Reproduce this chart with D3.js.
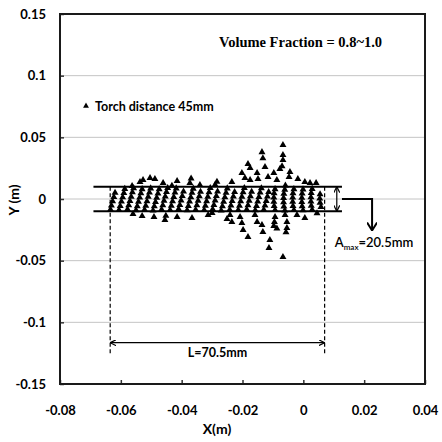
<!DOCTYPE html>
<html>
<head>
<meta charset="utf-8">
<script src="https://cdn.jsdelivr.net/npm/d3@7"></script>
<style>
  body { margin: 0; background: #fff; }
  svg text { font-family: Lato, "Open Sans", sans-serif; }
</style>
</head>
<body>
<div id="chart"></div>
<script>
// tick values (m)
var xTicks = [-0.08, -0.06, -0.04, -0.02, 0, 0.02, 0.04];
var yTicks = [-0.15, -0.1, -0.05, 0, 0.05, 0.1, 0.15];

// particle positions, [x, y] in mm
// band part, slanted columns
var bandLeft = [
  [-63.4,-8.6],[-63.1,-5.2],[-62.7,-1.8],[-62.3,1.6],[-61.9,5.0],
  [-60.6,-9.0],[-60.2,-5.6],[-59.8,-2.0],[-59.4,1.4],[-59.0,4.8],[-58.7,8.2],
  [-57.8,-8.4],[-57.4,-5.0],[-57.0,-1.6],[-56.6,1.8],[-56.2,5.4],[-55.8,8.8],
  [-55.0,-9.2],[-54.6,-5.8],[-54.2,-2.2],[-53.8,1.2],[-53.4,4.6],[-53.0,8.0],
  [-52.2,-8.8],[-51.8,-5.4],[-51.4,-1.8],[-51.0,1.8],[-50.6,5.2],[-50.2,8.6],
  [-49.4,-9.4],[-49.0,-5.8],[-48.6,-2.4],[-48.2,1.0],[-47.8,4.4],[-47.4,8.0],
  [-46.6,-8.6],[-46.2,-5.0],[-45.8,-1.4],[-45.4,2.0],[-45.0,5.6],[-44.6,9.0],
  [-43.8,-9.0],[-43.4,-5.4],[-43.0,-1.8],[-42.6,1.6],[-42.2,5.2],[-41.8,8.6],
  [-41.0,-8.2],[-40.6,-4.8],[-40.2,-1.2],[-39.8,2.4],[-39.4,6.0],
  [-38.2,-9.2],[-37.8,-5.6],[-37.4,-2.0],[-37.0,1.4],[-36.6,5.0],[-36.2,8.4],
  [-35.4,-8.8],[-35.0,-5.0],[-34.6,-1.4],[-34.2,2.2],[-33.8,5.8]
];
var bandMid = [
  [-32.6,-9.0],[-32.2,-5.4],[-31.8,-1.8],[-31.4,1.8],[-31.0,5.4],[-30.6,9.0],
  [-29.8,-8.4],[-29.4,-4.8],[-29.0,-1.2],[-28.6,2.4],[-28.2,6.0],
  [-27.0,-9.4],[-26.6,-5.8],[-26.2,-2.2],[-25.8,1.4],[-25.4,5.0],[-25.0,8.6],
  [-24.2,-8.8],[-23.8,-5.2],[-23.4,-1.6],[-23.0,2.0],[-22.6,5.6],
  [-21.4,-9.0],[-21.0,-5.4],[-20.6,-1.8],[-20.2,1.8],[-19.8,5.4],[-19.4,9.0],
  [-18.6,-8.6],[-18.2,-5.0],[-17.8,-1.4],[-17.4,2.2],[-17.0,5.8],
  [-15.8,-9.2],[-15.4,-5.6],[-15.0,-2.0],[-14.6,1.6],[-14.2,5.2],[-13.8,8.8],
  [-13.0,-8.8],[-12.6,-5.2],[-12.2,-1.6],[-11.8,2.0],[-11.4,5.6]
];
// band part, upright columns near the end
var bandRight = [
  [-9.3,-9.0],[-9.6,-5.6],[-9.7,-2.2],[-9.7,1.2],[-9.6,4.6],[-9.3,8.0],
  [-6.1,-9.4],[-6.4,-6.0],[-6.5,-2.6],[-6.5,0.8],[-6.4,4.2],[-6.1,7.6],[-5.9,11.0],
  [-3.1,-9.0],[-3.4,-5.6],[-3.5,-2.2],[-3.5,1.2],[-3.4,4.6],[-3.1,8.0],
  [-0.1,-9.2],[-0.4,-5.8],[-0.5,-2.4],[-0.5,1.0],[-0.4,4.4],[-0.1,7.8],
  [2.9,-8.8],[2.6,-5.4],[2.5,-2.0],[2.5,1.4],[2.6,4.8],[2.9,8.2],
  [5.8,-6.4],[5.5,-3.0],[5.4,0.4],[5.5,3.8]
];
// above the band
var upper = [
  [-56.3,10.5],[-53.7,13.8],[-52.7,15.4],[-50.4,17.0],[-48.8,16.2],[-46.1,13.0],
  [-43.2,10.8],[-41.5,14.6],[-37.3,13.0],[-36.9,16.6],[-34.0,11.3],[-29.0,11.5],
  [-28.4,14.0],[-23.5,13.8],[-20.2,21.0],[-19.2,17.0],[-18.2,28.4],[-17.5,25.1],
  [-17.5,15.4],[-15.2,21.0],[-14.9,16.2],[-13.6,38.0],[-13.3,33.0],[-12.6,26.0],
  [-11.6,17.8],[-9.7,21.0],[-8.7,15.4],[-7.7,24.3],[-7.0,26.5],[-6.7,31.6],
  [-6.7,35.7],[-6.7,43.8],[-4.7,17.8],[-4.4,21.9],[-1.8,16.2],[0.5,13.8],
  [2.2,13.0],[4.2,13.0]
];
// below the band
var lower = [
  [-56.0,-12.2],[-53.0,-13.8],[-49.1,-14.6],[-45.5,-17.0],[-45.2,-13.5],
  [-41.5,-14.6],[-36.6,-15.4],[-31.3,-13.0],[-30.0,-11.3],[-25.1,-16.2],
  [-24.1,-13.0],[-23.5,-18.6],[-20.8,-14.6],[-20.2,-19.4],[-19.8,-25.1],
  [-18.2,-30.8],[-15.9,-13.0],[-15.2,-18.6],[-13.6,-21.0],[-13.3,-26.7],
  [-11.0,-33.2],[-11.3,-39.7],[-9.3,-14.6],[-9.5,-18.6],[-9.7,-21.8],
  [-8.7,-24.0],[-6.0,-13.0],[-5.4,-18.6],[-5.4,-23.5],[-5.7,-27.0],
  [-6.7,-47.0],[-2.1,-13.0],[0.5,-15.4],[4.5,-11.5]
];

// annotation positions (mm)
var bandY = [10, -10];
var bandX = [-69, 12.7];
var spanX = [-63.5, 7.0];
var spanY = -116.5;
var dashBottom = -127;
var ampX = 11.0;
var hookX = 22.6;
var hookBottom = -25.5;

var points = bandLeft.concat(bandMid, bandRight, upper, lower);

var W = 442, H = 442;
var margin = { top: 14, right: 17, bottom: 58, left: 60 };

var svg = d3.select('#chart').append('svg')
  .attr('width', W).attr('height', H);

var x = d3.scaleLinear().domain([-0.08, 0.04]).range([margin.left, W - margin.right]);
var y = d3.scaleLinear().domain([-0.15, 0.15]).range([H - margin.bottom, margin.top]);
var mm = function (v) { return v / 1000; };

var fmt = function (d) { return String(+d.toFixed(2)); };

var defs = svg.append('defs');
defs.append('marker').attr('id', 'ah')
  .attr('viewBox', '0 0 10 10').attr('refX', 10).attr('refY', 5)
  .attr('markerWidth', 6).attr('markerHeight', 6).attr('markerUnits', 'userSpaceOnUse')
  .attr('orient', 'auto-start-reverse')
  .append('path').attr('d', 'M0,0 L10,5 L0,10').attr('fill', 'none')
  .attr('stroke', '#000').attr('stroke-width', 2);
defs.append('marker').attr('id', 'big')
  .attr('viewBox', '0 0 10 10').attr('refX', 9).attr('refY', 5)
  .attr('markerWidth', 10).attr('markerHeight', 10).attr('markerUnits', 'userSpaceOnUse')
  .attr('orient', 'auto')
  .append('path').attr('d', 'M1,0 L9,5 L1,10').attr('fill', 'none')
  .attr('stroke', '#000').attr('stroke-width', 2);

// gridlines
svg.append('g').selectAll('line')
  .data(yTicks.filter(function (d) { return Math.abs(d) < 0.15; }))
  .enter().append('line')
  .attr('x1', margin.left).attr('x2', W - margin.right)
  .attr('y1', function (d) { return y(d); }).attr('y2', function (d) { return y(d); })
  .attr('stroke', '#c4c4c4').attr('stroke-width', 1);

// axes
var xAxis = svg.append('g')
  .attr('transform', 'translate(0,' + (H - margin.bottom) + ')')
  .call(d3.axisBottom(x).tickValues(xTicks).tickFormat(fmt).tickSize(-4).tickPadding(22));
var yAxis = svg.append('g')
  .attr('transform', 'translate(' + margin.left + ',0)')
  .call(d3.axisLeft(y).tickValues(yTicks).tickFormat(fmt).tickSize(-4).tickPadding(14));
[xAxis, yAxis].forEach(function (g) {
  g.select('.domain').remove();
  g.selectAll('line').attr('stroke', '#333').attr('stroke-width', 1.5);
  g.selectAll('text').attr('fill', '#000').style('font-size', '13px').style('font-weight', 'bold')
    .style('font-family', 'Lato, sans-serif');
});

// frame
svg.append('rect')
  .attr('x', margin.left).attr('y', margin.top)
  .attr('width', W - margin.left - margin.right).attr('height', H - margin.top - margin.bottom)
  .attr('fill', 'none').attr('stroke', '#1a1a1a').attr('stroke-width', 2);

// band lines
svg.append('g').selectAll('line').data(bandY).enter().append('line')
  .attr('x1', x(mm(bandX[0]))).attr('x2', x(mm(bandX[1])))
  .attr('y1', function (d) { return y(mm(d)); }).attr('y2', function (d) { return y(mm(d)); })
  .attr('stroke', '#000').attr('stroke-width', 2);

// dashed span lines
svg.append('g').selectAll('line').data(spanX).enter().append('line')
  .attr('x1', function (d) { return x(mm(d)); }).attr('x2', function (d) { return x(mm(d)); })
  .attr('y1', y(mm(bandY[0]))).attr('y2', y(mm(dashBottom)))
  .attr('stroke', '#000').attr('stroke-width', 1.2).attr('stroke-dasharray', '4,2.5');

svg.append('line')
  .attr('x1', x(mm(spanX[0]))).attr('x2', x(mm(spanX[1])))
  .attr('y1', y(mm(spanY))).attr('y2', y(mm(spanY)))
  .attr('stroke', '#000').attr('stroke-width', 1.2)
  .attr('marker-start', 'url(#ah)').attr('marker-end', 'url(#ah)');

svg.append('text')
  .attr('x', x(mm((spanX[0] + spanX[1]) / 2))).attr('y', y(mm(spanY)) + 14)
  .attr('text-anchor', 'middle').style('font-size', '12.5px').style('font-weight', 'bold')
  .text('L=70.5mm');

// amplitude arrow
svg.append('line')
  .attr('x1', x(mm(ampX))).attr('x2', x(mm(ampX)))
  .attr('y1', y(mm(bandY[0]))).attr('y2', y(mm(bandY[1])))
  .attr('stroke', '#000').attr('stroke-width', 1.2)
  .attr('marker-start', 'url(#ah)').attr('marker-end', 'url(#ah)');

svg.append('path')
  .attr('d', d3.line()([
    [x(mm(bandX[1])), y(0)], [x(mm(hookX)), y(0)], [x(mm(hookX)), y(mm(hookBottom))]
  ]))
  .attr('fill', 'none').attr('stroke', '#000').attr('stroke-width', 2)
  .attr('marker-end', 'url(#big)');

var amp = svg.append('text')
  .attr('x', x(mm(ampX)) - 2).attr('y', 247)
  .style('font-size', '13px').style('font-weight', '600');
amp.append('tspan').text('A');
amp.append('tspan').attr('dy', 3).style('font-size', '8px').text('max');
amp.append('tspan').attr('dy', -3).text('=20.5mm');

// particles
var tri = d3.symbol().type(d3.symbolTriangle).size(21);
svg.append('g').selectAll('path').data(points).enter().append('path')
  .attr('d', tri)
  .attr('transform', function (d) { return 'translate(' + x(mm(d[0])) + ',' + y(mm(d[1])) + ')'; })
  .attr('fill', '#000');

// legend
svg.append('path').attr('d', d3.symbol().type(d3.symbolTriangle).size(15))
  .attr('transform', 'translate(86,106)').attr('fill', '#000');
svg.append('text').attr('x', 95).attr('y', 111)
  .style('font-size', '12.5px').style('font-weight', 'bold')
  .text('Torch distance 45mm');

// title
svg.append('text').attr('x', 219).attr('y', 47)
  .style('font-family', '"Liberation Serif", "DejaVu Serif", serif')
  .style('font-size', '14.5px').style('font-weight', 'bold')
  .text('Volume Fraction = 0.8~1.0');

// axis titles
svg.append('text').attr('x', 217).attr('y', 434)
  .attr('text-anchor', 'middle').style('font-size', '14px').style('font-weight', 'bold')
  .text('X(m)');
svg.append('text')
  .attr('transform', 'translate(19,200) rotate(-90)')
  .attr('text-anchor', 'middle').style('font-size', '14px').style('font-weight', 'bold')
  .text('Y (m)');
</script>
</body>
</html>
